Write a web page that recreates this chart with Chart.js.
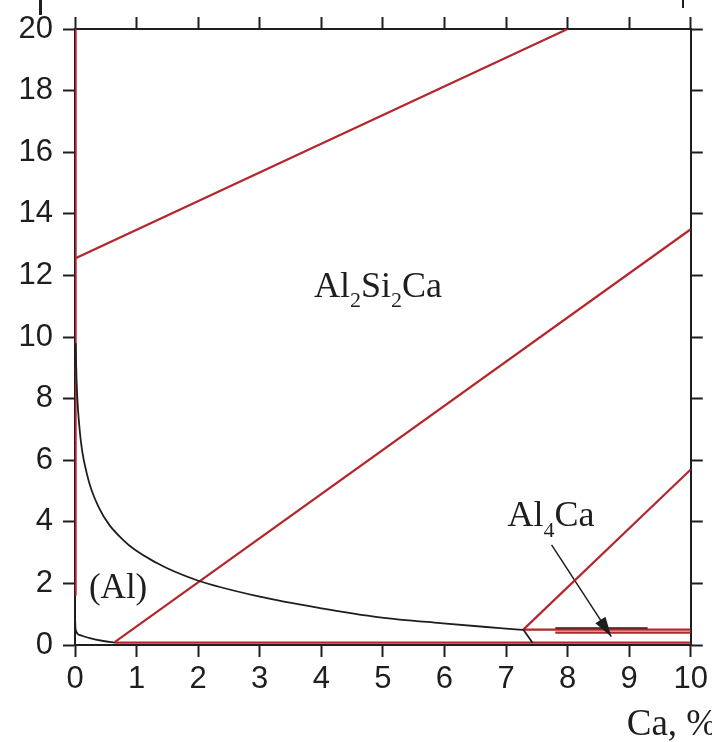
<!DOCTYPE html>
<html>
<head>
<meta charset="utf-8">
<script src="https://cdn.jsdelivr.net/npm/chart.js@4.4.1/dist/chart.umd.min.js"></script>
<style>
  html, body { margin: 0; padding: 0; background: #fff; }
  #wrap { width: 712px; height: 742px; }
</style>
</head>
<body>
<div id="wrap"><canvas id="chart" width="712" height="742"></canvas></div>
<script>
// Axis ranges (Ca, % on x; second component on y)
const xRange = [0, 10];
const yRange = [0, 20];
const xStep = 1;
const yStep = 2;

// Red phase-boundary lines as [x, y] pairs
const redVertical = [[0.01, 1.6], [0.01, 20]];
const redUpper = [[0, 12.55], [8, 20]];
const redMiddle = [[0.65, 0.1], [10, 13.5]];
const redRight = [[7.28, 0.5], [10, 5.7]];
const redBase = [[0.65, 0.08], [10, 0.08]];
const redShelf = [[7.28, 0.5], [10, 0.5]];
const redShelfLow = [[7.8, 0.4], [10, 0.4]];

// Black lines
const blackCurve = [
    [0.01, 9.8], [0.025, 8.6], [0.08, 6.9], [0.19, 5.58], [0.38, 4.49],
    [0.78, 3.41], [1.33, 2.66], [1.97, 2.11], [3.0, 1.57], [3.98, 1.2],
    [4.95, 0.9], [5.93, 0.71], [6.9, 0.55], [7.28, 0.49]
];
const blackLower = [[0.0, 0.9], [0.01, 0.5], [0.08, 0.32], [0.24, 0.22], [0.46, 0.13], [0.65, 0.08]];
const blackDrop = [[7.28, 0.5], [7.43, 0.07]];
const blackShelf = [[7.8, 0.55], [9.3, 0.55]];
const arrowLine = [[7.74, 3.25], [8.71, 0.27]];

const RED = '#b3272c';
const INK = '#1e1e1e';

function pts(arr) {
    return arr.map(p => ({ x: p[0], y: p[1] }));
}

function lineSet(arr, color, width, smooth) {
    return {
        data: pts(arr),
        showLine: true,
        borderColor: color,
        borderWidth: width,
        pointRadius: 0,
        fill: false,
        cubicInterpolationMode: smooth ? 'monotone' : 'default',
        tension: smooth ? 0.4 : 0
    };
}

// text helpers: parts = [[text, isSub], ...]
function drawFormula(ctx, parts, cx, baseY, size) {
    const subSize = Math.round(size * 0.62);
    let total = 0;
    parts.forEach(([t, sub]) => {
        ctx.font = (sub ? subSize : size) + 'px "Liberation Serif", "Times New Roman", serif';
        total += ctx.measureText(t).width;
    });
    let x = cx - total / 2;
    ctx.textAlign = 'left';
    ctx.textBaseline = 'alphabetic';
    parts.forEach(([t, sub]) => {
        ctx.font = (sub ? subSize : size) + 'px "Liberation Serif", "Times New Roman", serif';
        ctx.fillText(t, x, sub ? baseY + size * 0.28 : baseY);
        x += ctx.measureText(t).width;
    });
}

const annotations = {
    id: 'annotations',
    afterDatasetsDraw(chart) {
        const { ctx, chartArea, scales: { x, y } } = chart;
        ctx.save();
        ctx.fillStyle = INK;

        // region labels
        drawFormula(ctx, [['Al', 0], ['2', 1], ['Si', 0], ['2', 1], ['Ca', 0]],
            x.getPixelForValue(4.92), y.getPixelForValue(11.3), 36);
        drawFormula(ctx, [['(Al)', 0]], x.getPixelForValue(0.7), y.getPixelForValue(1.53), 35);
        drawFormula(ctx, [['Al', 0], ['4', 1], ['Ca', 0]],
            x.getPixelForValue(7.73), y.getPixelForValue(3.85), 36);

        // arrowhead at end of pointer line
        const x0 = x.getPixelForValue(arrowLine[0][0]), y0 = y.getPixelForValue(arrowLine[0][1]);
        const x1 = x.getPixelForValue(arrowLine[1][0]), y1 = y.getPixelForValue(arrowLine[1][1]);
        const ang = Math.atan2(y1 - y0, x1 - x0);
        const len = 20, half = 6;
        ctx.beginPath();
        ctx.moveTo(x1, y1);
        ctx.lineTo(x1 - len * Math.cos(ang) + half * Math.sin(ang), y1 - len * Math.sin(ang) - half * Math.cos(ang));
        ctx.lineTo(x1 - len * Math.cos(ang) - half * Math.sin(ang), y1 - len * Math.sin(ang) + half * Math.cos(ang));
        ctx.closePath();
        ctx.fill();

        // axis caption, partly cut by the right edge as in the source
        ctx.font = '37px "Liberation Serif", "Times New Roman", serif';
        ctx.textAlign = 'left';
        ctx.textBaseline = 'alphabetic';
        ctx.fillText('Ca, %', chartArea.right - 64, chartArea.bottom + 90);

        // small crop marks at the top edge
        ctx.fillRect(39, 0, 3, 15);
        ctx.fillRect(682, 0, 2, 8);
        ctx.restore();
    }
};

const tickGrid = {
    drawOnChartArea: false,
    drawTicks: true,
    tickLength: 12,
    tickWidth: 2,
    tickColor: INK
};
const frame = { display: true, color: INK, width: 2 };
const tickFont = { family: '"Liberation Sans", Arial, sans-serif', size: 31 };

new Chart(document.getElementById('chart').getContext('2d'), {
    type: 'scatter',
    data: {
        datasets: [
            lineSet(blackCurve, INK, 1.8, true),
            lineSet(blackLower, INK, 1.8, true),
            lineSet(blackDrop, INK, 1.8, false),
            lineSet(redVertical, RED, 2.2, false),
            lineSet(redUpper, RED, 2.2, false),
            lineSet(redMiddle, RED, 2.2, false),
            lineSet(redRight, RED, 2.2, false),
            lineSet(redBase, RED, 2.2, false),
            lineSet(redShelf, RED, 2.2, false),
            lineSet(redShelfLow, RED, 2.2, false),
            lineSet(blackShelf, INK, 1.8, false),
            lineSet(arrowLine, INK, 1.5, false)
        ]
    },
    options: {
        responsive: false,
        animation: false,
        layout: { padding: 0 },
        plugins: {
            legend: { display: false },
            tooltip: { enabled: false }
        },
        scales: {
            x: {
                type: 'linear', position: 'bottom',
                min: xRange[0], max: xRange[1],
                ticks: { stepSize: xStep, autoSkip: false, maxRotation: 0, color: INK, font: tickFont, padding: 4 },
                grid: tickGrid,
                border: frame,
                afterFit(s) { s.height = 97; }
            },
            xTop: {
                type: 'linear', position: 'top',
                min: xRange[0], max: xRange[1],
                ticks: { stepSize: xStep, display: false },
                grid: tickGrid,
                border: frame,
                afterFit(s) { s.height = 29; }
            },
            y: {
                type: 'linear', position: 'left',
                min: yRange[0], max: yRange[1],
                ticks: { stepSize: yStep, color: INK, font: tickFont, padding: 10 },
                grid: tickGrid,
                border: frame,
                afterFit(s) { s.width = 75; }
            },
            yRight: {
                type: 'linear', position: 'right',
                min: yRange[0], max: yRange[1],
                ticks: { stepSize: yStep, display: false },
                grid: tickGrid,
                border: frame,
                afterFit(s) { s.width = 21; }
            }
        }
    },
    plugins: [annotations]
});
</script>
</body>
</html>
